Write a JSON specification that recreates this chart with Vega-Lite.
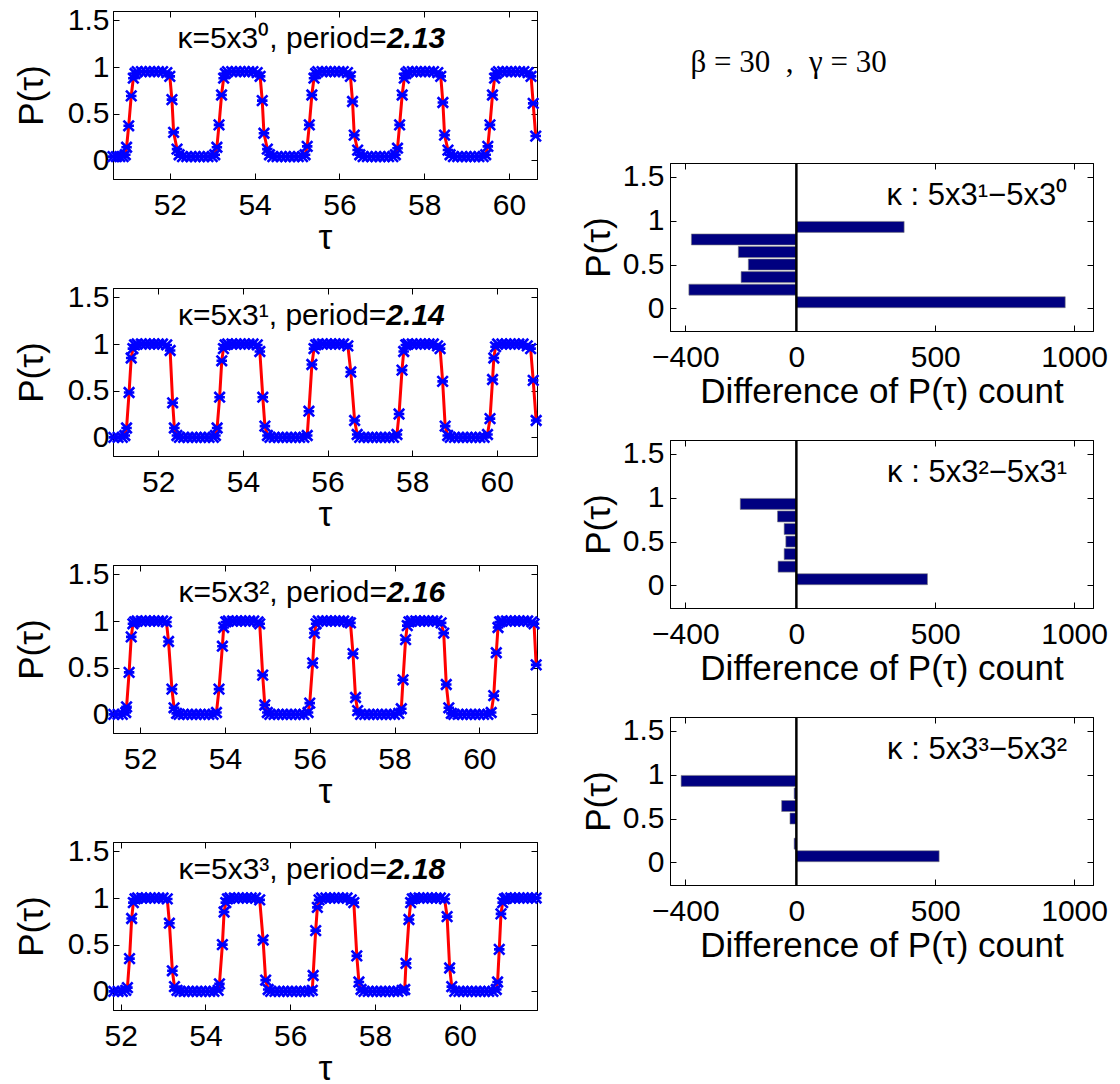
{
"$schema":"https://vega.github.io/schema/vega-lite/v6.json",
"padding":{"left":13,"top":4,"right":0,"bottom":0},
"background":"white",
"datasets":{
"L0":[{"t":50.66,"p":0.04},{"t":50.74,"p":0.04},{"t":50.82,"p":0.04},{"t":50.9,"p":0.04},{"t":50.95,"p":0.06},
{"t":50.98,"p":0.14},{"t":51.03,"p":0.37},{"t":51.09,"p":0.69},{"t":51.14,"p":0.88},{"t":51.18,"p":0.93},
{"t":51.23,"p":0.95},{"t":51.33,"p":0.95},{"t":51.43,"p":0.95},{"t":51.53,"p":0.95},{"t":51.63,"p":0.95},{"t":51.73,"p":0.95},{"t":51.83,"p":0.95},{"t":51.93,"p":0.94},
{"t":52.0,"p":0.9},{"t":52.05,"p":0.65},{"t":52.09,"p":0.3},{"t":52.17,"p":0.12},{"t":52.22,"p":0.06},
{"t":52.3,"p":0.04},{"t":52.4,"p":0.04},{"t":52.5,"p":0.04},{"t":52.6,"p":0.04},{"t":52.7,"p":0.04},{"t":52.8,"p":0.04},{"t":52.9,"p":0.04},{"t":53.0,"p":0.04},{"t":53.06,"p":0.06},
{"t":53.11,"p":0.14},{"t":53.16,"p":0.38},{"t":53.22,"p":0.7},{"t":53.27,"p":0.88},{"t":53.31,"p":0.93},
{"t":53.36,"p":0.95},{"t":53.46,"p":0.95},{"t":53.56,"p":0.95},{"t":53.66,"p":0.95},{"t":53.76,"p":0.95},{"t":53.86,"p":0.95},{"t":53.96,"p":0.95},{"t":54.06,"p":0.94},
{"t":54.13,"p":0.9},{"t":54.18,"p":0.64},{"t":54.22,"p":0.29},{"t":54.3,"p":0.12},{"t":54.35,"p":0.06},
{"t":54.43,"p":0.04},{"t":54.53,"p":0.04},{"t":54.63,"p":0.04},{"t":54.73,"p":0.04},{"t":54.83,"p":0.04},{"t":54.93,"p":0.04},{"t":55.03,"p":0.04},{"t":55.13,"p":0.04},{"t":55.19,"p":0.06},
{"t":55.24,"p":0.15},{"t":55.29,"p":0.38},{"t":55.35,"p":0.7},{"t":55.4,"p":0.88},{"t":55.44,"p":0.93},
{"t":55.49,"p":0.95},{"t":55.59,"p":0.95},{"t":55.69,"p":0.95},{"t":55.79,"p":0.95},{"t":55.89,"p":0.95},{"t":55.99,"p":0.95},{"t":56.09,"p":0.95},{"t":56.19,"p":0.94},
{"t":56.26,"p":0.9},{"t":56.31,"p":0.63},{"t":56.35,"p":0.27},{"t":56.43,"p":0.11},{"t":56.48,"p":0.06},
{"t":56.56,"p":0.04},{"t":56.66,"p":0.04},{"t":56.76,"p":0.04},{"t":56.86,"p":0.04},{"t":56.96,"p":0.04},{"t":57.06,"p":0.04},{"t":57.16,"p":0.04},{"t":57.26,"p":0.04},{"t":57.32,"p":0.06},
{"t":57.37,"p":0.13},{"t":57.42,"p":0.38},{"t":57.48,"p":0.7},{"t":57.53,"p":0.88},{"t":57.57,"p":0.93},
{"t":57.62,"p":0.95},{"t":57.72,"p":0.95},{"t":57.82,"p":0.95},{"t":57.92,"p":0.95},{"t":58.02,"p":0.95},{"t":58.12,"p":0.95},{"t":58.22,"p":0.95},{"t":58.32,"p":0.94},
{"t":58.39,"p":0.9},{"t":58.44,"p":0.62},{"t":58.48,"p":0.27},{"t":58.56,"p":0.11},{"t":58.61,"p":0.06},
{"t":58.69,"p":0.04},{"t":58.79,"p":0.04},{"t":58.89,"p":0.04},{"t":58.99,"p":0.04},{"t":59.09,"p":0.04},{"t":59.19,"p":0.04},{"t":59.29,"p":0.04},{"t":59.39,"p":0.04},{"t":59.45,"p":0.06},
{"t":59.5,"p":0.15},{"t":59.55,"p":0.38},{"t":59.61,"p":0.7},{"t":59.66,"p":0.88},{"t":59.7,"p":0.93},
{"t":59.75,"p":0.95},{"t":59.85,"p":0.95},{"t":59.95,"p":0.95},{"t":60.05,"p":0.95},{"t":60.15,"p":0.95},{"t":60.25,"p":0.95},{"t":60.35,"p":0.95},{"t":60.45,"p":0.94},
{"t":60.52,"p":0.9},{"t":60.57,"p":0.61},{"t":60.63,"p":0.26}],
"L1":[{"t":50.95,"p":0},{"t":51.05,"p":0},{"t":51.15,"p":0},{"t":51.21,"p":0.02},
{"t":51.25,"p":0.1},{"t":51.31,"p":0.48},{"t":51.36,"p":0.85},{"t":51.4,"p":0.95},{"t":51.44,"p":0.99},
{"t":51.5,"p":1},{"t":51.6,"p":1},{"t":51.7,"p":1},{"t":51.8,"p":1},{"t":51.9,"p":1},{"t":52.0,"p":1},{"t":52.1,"p":1},{"t":52.2,"p":0.99},
{"t":52.28,"p":0.93},{"t":52.34,"p":0.37},{"t":52.38,"p":0.1},{"t":52.44,"p":0.02},
{"t":52.5,"p":0},{"t":52.6,"p":0},{"t":52.7,"p":0},{"t":52.8,"p":0},{"t":52.9,"p":0},{"t":53.0,"p":0},{"t":53.1,"p":0},{"t":53.2,"p":0},{"t":53.3,"p":0},{"t":53.35,"p":0.02},
{"t":53.39,"p":0.1},{"t":53.45,"p":0.43},{"t":53.5,"p":0.82},{"t":53.54,"p":0.95},{"t":53.58,"p":0.99},
{"t":53.64,"p":1},{"t":53.74,"p":1},{"t":53.84,"p":1},{"t":53.94,"p":1},{"t":54.04,"p":1},{"t":54.14,"p":1},{"t":54.24,"p":1},{"t":54.34,"p":0.99},
{"t":54.4,"p":0.92},{"t":54.47,"p":0.43},{"t":54.52,"p":0.12},{"t":54.58,"p":0.02},
{"t":54.64,"p":0},{"t":54.74,"p":0},{"t":54.84,"p":0},{"t":54.94,"p":0},{"t":55.04,"p":0},{"t":55.14,"p":0},{"t":55.24,"p":0},{"t":55.34,"p":0},{"t":55.44,"p":0},{"t":55.52,"p":0.02},
{"t":55.56,"p":0.28},{"t":55.63,"p":0.78},{"t":55.68,"p":0.95},{"t":55.72,"p":0.99},
{"t":55.78,"p":1},{"t":55.88,"p":1},{"t":55.98,"p":1},{"t":56.08,"p":1},{"t":56.18,"p":1},{"t":56.28,"p":1},{"t":56.38,"p":1},{"t":56.48,"p":0.98},
{"t":56.55,"p":0.7},{"t":56.64,"p":0.18},{"t":56.7,"p":0.03},
{"t":56.76,"p":0},{"t":56.86,"p":0},{"t":56.96,"p":0},{"t":57.06,"p":0},{"t":57.16,"p":0},{"t":57.26,"p":0},{"t":57.36,"p":0},{"t":57.46,"p":0},{"t":57.56,"p":0},{"t":57.64,"p":0.03},
{"t":57.69,"p":0.25},{"t":57.76,"p":0.72},{"t":57.8,"p":0.92},{"t":57.85,"p":0.99},
{"t":57.9,"p":1},{"t":58.0,"p":1},{"t":58.1,"p":1},{"t":58.2,"p":1},{"t":58.3,"p":1},{"t":58.4,"p":1},{"t":58.5,"p":1},{"t":58.6,"p":0.98},
{"t":58.66,"p":0.95},{"t":58.72,"p":0.6},{"t":58.78,"p":0.12},{"t":58.84,"p":0.02},
{"t":58.9,"p":0},{"t":59.0,"p":0},{"t":59.1,"p":0},{"t":59.2,"p":0},{"t":59.3,"p":0},{"t":59.4,"p":0},{"t":59.5,"p":0},{"t":59.6,"p":0},{"t":59.7,"p":0},{"t":59.78,"p":0.03},
{"t":59.84,"p":0.2},{"t":59.9,"p":0.62},{"t":59.93,"p":0.85},{"t":59.97,"p":0.97},
{"t":60.02,"p":1},{"t":60.12,"p":1},{"t":60.22,"p":1},{"t":60.32,"p":1},{"t":60.42,"p":1},{"t":60.52,"p":1},{"t":60.62,"p":1},{"t":60.72,"p":0.98},
{"t":60.8,"p":0.95},{"t":60.86,"p":0.61},{"t":60.93,"p":0.18}],
"L2":[{"t":51.38,"p":0},{"t":51.48,"p":0},{"t":51.58,"p":0},{"t":51.66,"p":0.02},
{"t":51.68,"p":0.08},{"t":51.74,"p":0.45},{"t":51.79,"p":0.83},{"t":51.83,"p":0.97},{"t":51.87,"p":0.99},
{"t":51.93,"p":1},{"t":52.03,"p":1},{"t":52.13,"p":1},{"t":52.23,"p":1},{"t":52.33,"p":1},{"t":52.43,"p":1},{"t":52.53,"p":1},{"t":52.62,"p":0.99},
{"t":52.67,"p":0.78},{"t":52.75,"p":0.27},{"t":52.8,"p":0.07},{"t":52.86,"p":0.01},
{"t":52.92,"p":0},{"t":53.02,"p":0},{"t":53.12,"p":0},{"t":53.22,"p":0},{"t":53.32,"p":0},{"t":53.42,"p":0},{"t":53.52,"p":0},{"t":53.62,"p":0},{"t":53.72,"p":0},{"t":53.8,"p":0.02},
{"t":53.86,"p":0.27},{"t":53.94,"p":0.73},{"t":53.97,"p":0.93},{"t":54.02,"p":0.99},
{"t":54.08,"p":1},{"t":54.18,"p":1},{"t":54.28,"p":1},{"t":54.38,"p":1},{"t":54.48,"p":1},{"t":54.58,"p":1},{"t":54.68,"p":1},{"t":54.78,"p":0.99},
{"t":54.82,"p":0.97},{"t":54.89,"p":0.42},{"t":54.94,"p":0.1},{"t":55.0,"p":0.02},
{"t":55.06,"p":0},{"t":55.16,"p":0},{"t":55.26,"p":0},{"t":55.36,"p":0},{"t":55.46,"p":0},{"t":55.56,"p":0},{"t":55.66,"p":0},{"t":55.76,"p":0},{"t":55.86,"p":0},{"t":55.96,"p":0.02},
{"t":56.0,"p":0.12},{"t":56.07,"p":0.55},{"t":56.11,"p":0.87},{"t":56.15,"p":0.97},
{"t":56.2,"p":1},{"t":56.3,"p":1},{"t":56.4,"p":1},{"t":56.5,"p":1},{"t":56.6,"p":1},{"t":56.7,"p":1},{"t":56.8,"p":1},{"t":56.9,"p":0.99},{"t":56.96,"p":0.98},
{"t":57.02,"p":0.65},{"t":57.08,"p":0.18},{"t":57.13,"p":0.04},
{"t":57.2,"p":0},{"t":57.3,"p":0},{"t":57.4,"p":0},{"t":57.5,"p":0},{"t":57.6,"p":0},{"t":57.7,"p":0},{"t":57.8,"p":0},{"t":57.9,"p":0},{"t":58.0,"p":0},{"t":58.1,"p":0.01},{"t":58.16,"p":0.06},
{"t":58.2,"p":0.37},{"t":58.26,"p":0.8},{"t":58.3,"p":0.95},{"t":58.34,"p":0.99},
{"t":58.4,"p":1},{"t":58.5,"p":1},{"t":58.6,"p":1},{"t":58.7,"p":1},{"t":58.8,"p":1},{"t":58.9,"p":1},{"t":59.0,"p":1},{"t":59.1,"p":0.98},
{"t":59.16,"p":0.87},{"t":59.22,"p":0.32},{"t":59.28,"p":0.07},{"t":59.34,"p":0.01},
{"t":59.4,"p":0},{"t":59.5,"p":0},{"t":59.6,"p":0},{"t":59.7,"p":0},{"t":59.8,"p":0},{"t":59.9,"p":0},{"t":60.0,"p":0},{"t":60.1,"p":0},{"t":60.2,"p":0},{"t":60.28,"p":0.02},
{"t":60.34,"p":0.2},{"t":60.4,"p":0.66},{"t":60.44,"p":0.93},{"t":60.48,"p":0.99},
{"t":60.54,"p":1},{"t":60.64,"p":1},{"t":60.74,"p":1},{"t":60.84,"p":1},{"t":60.94,"p":1},{"t":61.04,"p":1},{"t":61.14,"p":1},{"t":61.24,"p":0.99},
{"t":61.29,"p":0.97},{"t":61.34,"p":0.53}],
"L3":[{"t":51.84,"p":0},{"t":51.94,"p":0},{"t":52.04,"p":0},{"t":52.12,"p":0.01},
{"t":52.16,"p":0.04},{"t":52.21,"p":0.35},{"t":52.26,"p":0.78},{"t":52.3,"p":0.95},{"t":52.34,"p":0.99},
{"t":52.4,"p":1},{"t":52.5,"p":1},{"t":52.6,"p":1},{"t":52.7,"p":1},{"t":52.8,"p":1},{"t":52.9,"p":1},{"t":53.0,"p":1},{"t":53.1,"p":0.99},
{"t":53.15,"p":0.73},{"t":53.22,"p":0.22},{"t":53.27,"p":0.05},{"t":53.33,"p":0.01},
{"t":53.4,"p":0},{"t":53.5,"p":0},{"t":53.6,"p":0},{"t":53.7,"p":0},{"t":53.8,"p":0},{"t":53.9,"p":0},{"t":54.0,"p":0},{"t":54.1,"p":0},{"t":54.2,"p":0},{"t":54.3,"p":0.01},
{"t":54.33,"p":0.08},{"t":54.4,"p":0.5},{"t":54.44,"p":0.85},{"t":54.48,"p":0.95},{"t":54.52,"p":0.99},
{"t":54.58,"p":1},{"t":54.68,"p":1},{"t":54.78,"p":1},{"t":54.88,"p":1},{"t":54.98,"p":1},{"t":55.08,"p":1},{"t":55.18,"p":1},{"t":55.28,"p":0.98},
{"t":55.36,"p":0.55},{"t":55.42,"p":0.12},{"t":55.48,"p":0.02},
{"t":55.54,"p":0},{"t":55.64,"p":0},{"t":55.74,"p":0},{"t":55.84,"p":0},{"t":55.94,"p":0},{"t":56.04,"p":0},{"t":56.14,"p":0},{"t":56.24,"p":0},{"t":56.34,"p":0},{"t":56.44,"p":0},{"t":56.52,"p":0.01},
{"t":56.54,"p":0.17},{"t":56.6,"p":0.65},{"t":56.64,"p":0.9},{"t":56.68,"p":0.98},
{"t":56.74,"p":1},{"t":56.84,"p":1},{"t":56.94,"p":1},{"t":57.04,"p":1},{"t":57.14,"p":1},{"t":57.24,"p":1},{"t":57.34,"p":1},{"t":57.44,"p":0.98},{"t":57.5,"p":0.95},
{"t":57.57,"p":0.38},{"t":57.62,"p":0.1},{"t":57.67,"p":0.02},
{"t":57.74,"p":0},{"t":57.84,"p":0},{"t":57.94,"p":0},{"t":58.04,"p":0},{"t":58.14,"p":0},{"t":58.24,"p":0},{"t":58.34,"p":0},{"t":58.44,"p":0},{"t":58.54,"p":0},{"t":58.64,"p":0.01},{"t":58.7,"p":0.02},
{"t":58.73,"p":0.3},{"t":58.8,"p":0.77},{"t":58.84,"p":0.95},{"t":58.88,"p":0.99},
{"t":58.94,"p":1},{"t":59.04,"p":1},{"t":59.14,"p":1},{"t":59.24,"p":1},{"t":59.34,"p":1},{"t":59.44,"p":1},{"t":59.54,"p":1},{"t":59.64,"p":0.99},
{"t":59.7,"p":0.8},{"t":59.76,"p":0.25},{"t":59.81,"p":0.05},
{"t":59.88,"p":0},{"t":59.98,"p":0},{"t":60.08,"p":0},{"t":60.18,"p":0},{"t":60.28,"p":0},{"t":60.38,"p":0},{"t":60.48,"p":0},{"t":60.58,"p":0},{"t":60.68,"p":0},{"t":60.78,"p":0},{"t":60.86,"p":0.02},
{"t":60.89,"p":0.1},{"t":60.93,"p":0.45},{"t":60.97,"p":0.83},{"t":61.01,"p":0.95},{"t":61.05,"p":0.99},
{"t":61.1,"p":1},{"t":61.2,"p":1},{"t":61.3,"p":1},{"t":61.4,"p":1},{"t":61.5,"p":1},{"t":61.6,"p":1},{"t":61.7,"p":1},{"t":61.8,"p":1}],
"A0":[{"t":57.12,"p":1.2,"s":"κ=5x3⁰, period=","v":"2.13"}],
"A1":[{"t":57.39,"p":1.2,"s":"κ=5x3¹, period=","v":"2.14"}],
"A2":[{"t":57.82,"p":1.2,"s":"κ=5x3², period=","v":"2.16"}],
"A3":[{"t":58.28,"p":1.2,"s":"κ=5x3³, period=","v":"2.18"}],
"R0":[{"b":0.071,"d":968},{"b":0.214,"d":-387},{"b":0.357,"d":-199},{"b":0.5,"d":-173},{"b":0.643,"d":-209},{"b":0.786,"d":-378},{"b":0.929,"d":388}],
"R1":[{"b":0.071,"d":472},{"b":0.214,"d":-66},{"b":0.357,"d":-44},{"b":0.5,"d":-38},{"b":0.643,"d":-44},{"b":0.786,"d":-68},{"b":0.929,"d":-202}],
"R2":[{"b":0.071,"d":514},{"b":0.214,"d":-8},{"b":0.357,"d":0},{"b":0.5,"d":-23},{"b":0.643,"d":-53},{"b":0.786,"d":-8},{"b":0.929,"d":-415}],
"K0":[{"d":975,"b":1.18,"s":"κ : 5x3¹−5x3⁰"}],
"K1":[{"d":975,"b":1.18,"s":"κ : 5x3²−5x3¹"}],
"K2":[{"d":975,"b":1.18,"s":"κ : 5x3³−5x3²"}],
"B":[{"d":-381,"b":2.8,"s":"β\u00a0=\u00a030\u00a0\u00a0,\u00a0\u00a0γ\u00a0=\u00a030"}]
},
"hconcat":[
{"vconcat":[
{"width":424,"height":168,"data":{"name":"L0"},"layer":[
{"mark":{"type":"line","color":"#ff0000","strokeWidth":3},"encoding":{"x":{"field":"t","type":"quantitative","scale":{"domain":[50.66,60.66],"nice":false,"zero":false},"axis":{"orient":"bottom","values":[52,54,56,58,60],"format":"d","title":"τ","labelPadding":17,"titlePadding":0}},"y":{"field":"p","type":"quantitative","scale":{"domain":[-0.2,1.6],"nice":false,"zero":false},"axis":{"orient":"left","values":[0,0.5,1,1.5],"format":"~g","title":"P(τ)","labelPadding":10,"titlePadding":18}}}},
{"mark":{"type":"point","shape":"M-1,-1L1,1M-1,1L1,-1M-1,0L1,0","filled":false,"color":"#0000ff","strokeWidth":2.6,"size":110,"opacity":1},"encoding":{"x":{"field":"t","type":"quantitative","scale":{"domain":[50.66,60.66],"nice":false,"zero":false},"axis":{"orient":"top","values":[52,54,56,58,60],"labels":false,"title":null}},"y":{"field":"p","type":"quantitative","scale":{"domain":[-0.2,1.6],"nice":false,"zero":false},"axis":{"orient":"right","values":[0,0.5,1,1.5],"labels":false,"title":null}}}},
{"data":{"name":"A0"},"mark":{"type":"text","align":"right","baseline":"alphabetic","fontSize":30},"encoding":{"x":{"field":"t","type":"quantitative","scale":{"domain":[50.66,60.66],"nice":false,"zero":false},"axis":null},"y":{"field":"p","type":"quantitative","scale":{"domain":[-0.2,1.6],"nice":false,"zero":false},"axis":null},"text":{"field":"s"}}},
{"data":{"name":"A0"},"mark":{"type":"text","align":"left","baseline":"alphabetic","fontSize":30,"fontWeight":"bold","fontStyle":"italic"},"encoding":{"x":{"field":"t","type":"quantitative","scale":{"domain":[50.66,60.66],"nice":false,"zero":false},"axis":null},"y":{"field":"p","type":"quantitative","scale":{"domain":[-0.2,1.6],"nice":false,"zero":false},"axis":null},"text":{"field":"v"}}}
],"resolve":{"axis":{"x":"independent","y":"independent"}}},
{"width":424,"height":168,"data":{"name":"L1"},"layer":[
{"mark":{"type":"line","color":"#ff0000","strokeWidth":3},"encoding":{"x":{"field":"t","type":"quantitative","scale":{"domain":[50.93,60.95],"nice":false,"zero":false},"axis":{"orient":"bottom","values":[52,54,56,58,60],"format":"d","title":"τ","labelPadding":17,"titlePadding":0}},"y":{"field":"p","type":"quantitative","scale":{"domain":[-0.2,1.6],"nice":false,"zero":false},"axis":{"orient":"left","values":[0,0.5,1,1.5],"format":"~g","title":"P(τ)","labelPadding":10,"titlePadding":18}}}},
{"mark":{"type":"point","shape":"M-1,-1L1,1M-1,1L1,-1M-1,0L1,0","filled":false,"color":"#0000ff","strokeWidth":2.6,"size":110,"opacity":1},"encoding":{"x":{"field":"t","type":"quantitative","scale":{"domain":[50.93,60.95],"nice":false,"zero":false},"axis":{"orient":"top","values":[52,54,56,58,60],"labels":false,"title":null}},"y":{"field":"p","type":"quantitative","scale":{"domain":[-0.2,1.6],"nice":false,"zero":false},"axis":{"orient":"right","values":[0,0.5,1,1.5],"labels":false,"title":null}}}},
{"data":{"name":"A1"},"mark":{"type":"text","align":"right","baseline":"alphabetic","fontSize":30},"encoding":{"x":{"field":"t","type":"quantitative","scale":{"domain":[50.93,60.95],"nice":false,"zero":false},"axis":null},"y":{"field":"p","type":"quantitative","scale":{"domain":[-0.2,1.6],"nice":false,"zero":false},"axis":null},"text":{"field":"s"}}},
{"data":{"name":"A1"},"mark":{"type":"text","align":"left","baseline":"alphabetic","fontSize":30,"fontWeight":"bold","fontStyle":"italic"},"encoding":{"x":{"field":"t","type":"quantitative","scale":{"domain":[50.93,60.95],"nice":false,"zero":false},"axis":null},"y":{"field":"p","type":"quantitative","scale":{"domain":[-0.2,1.6],"nice":false,"zero":false},"axis":null},"text":{"field":"v"}}}
],"resolve":{"axis":{"x":"independent","y":"independent"}}},
{"width":424,"height":168,"data":{"name":"L2"},"layer":[
{"mark":{"type":"line","color":"#ff0000","strokeWidth":3},"encoding":{"x":{"field":"t","type":"quantitative","scale":{"domain":[51.36,61.36],"nice":false,"zero":false},"axis":{"orient":"bottom","values":[52,54,56,58,60],"format":"d","title":"τ","labelPadding":17,"titlePadding":0}},"y":{"field":"p","type":"quantitative","scale":{"domain":[-0.2,1.6],"nice":false,"zero":false},"axis":{"orient":"left","values":[0,0.5,1,1.5],"format":"~g","title":"P(τ)","labelPadding":10,"titlePadding":18}}}},
{"mark":{"type":"point","shape":"M-1,-1L1,1M-1,1L1,-1M-1,0L1,0","filled":false,"color":"#0000ff","strokeWidth":2.6,"size":110,"opacity":1},"encoding":{"x":{"field":"t","type":"quantitative","scale":{"domain":[51.36,61.36],"nice":false,"zero":false},"axis":{"orient":"top","values":[52,54,56,58,60],"labels":false,"title":null}},"y":{"field":"p","type":"quantitative","scale":{"domain":[-0.2,1.6],"nice":false,"zero":false},"axis":{"orient":"right","values":[0,0.5,1,1.5],"labels":false,"title":null}}}},
{"data":{"name":"A2"},"mark":{"type":"text","align":"right","baseline":"alphabetic","fontSize":30},"encoding":{"x":{"field":"t","type":"quantitative","scale":{"domain":[51.36,61.36],"nice":false,"zero":false},"axis":null},"y":{"field":"p","type":"quantitative","scale":{"domain":[-0.2,1.6],"nice":false,"zero":false},"axis":null},"text":{"field":"s"}}},
{"data":{"name":"A2"},"mark":{"type":"text","align":"left","baseline":"alphabetic","fontSize":30,"fontWeight":"bold","fontStyle":"italic"},"encoding":{"x":{"field":"t","type":"quantitative","scale":{"domain":[51.36,61.36],"nice":false,"zero":false},"axis":null},"y":{"field":"p","type":"quantitative","scale":{"domain":[-0.2,1.6],"nice":false,"zero":false},"axis":null},"text":{"field":"v"}}}
],"resolve":{"axis":{"x":"independent","y":"independent"}}},
{"width":424,"height":168,"data":{"name":"L3"},"layer":[
{"mark":{"type":"line","color":"#ff0000","strokeWidth":3},"encoding":{"x":{"field":"t","type":"quantitative","scale":{"domain":[51.82,61.82],"nice":false,"zero":false},"axis":{"orient":"bottom","values":[52,54,56,58,60],"format":"d","title":"τ","labelPadding":17,"titlePadding":0}},"y":{"field":"p","type":"quantitative","scale":{"domain":[-0.2,1.6],"nice":false,"zero":false},"axis":{"orient":"left","values":[0,0.5,1,1.5],"format":"~g","title":"P(τ)","labelPadding":10,"titlePadding":18}}}},
{"mark":{"type":"point","shape":"M-1,-1L1,1M-1,1L1,-1M-1,0L1,0","filled":false,"color":"#0000ff","strokeWidth":2.6,"size":110,"opacity":1},"encoding":{"x":{"field":"t","type":"quantitative","scale":{"domain":[51.82,61.82],"nice":false,"zero":false},"axis":{"orient":"top","values":[52,54,56,58,60],"labels":false,"title":null}},"y":{"field":"p","type":"quantitative","scale":{"domain":[-0.2,1.6],"nice":false,"zero":false},"axis":{"orient":"right","values":[0,0.5,1,1.5],"labels":false,"title":null}}}},
{"data":{"name":"A3"},"mark":{"type":"text","align":"right","baseline":"alphabetic","fontSize":30},"encoding":{"x":{"field":"t","type":"quantitative","scale":{"domain":[51.82,61.82],"nice":false,"zero":false},"axis":null},"y":{"field":"p","type":"quantitative","scale":{"domain":[-0.2,1.6],"nice":false,"zero":false},"axis":null},"text":{"field":"s"}}},
{"data":{"name":"A3"},"mark":{"type":"text","align":"left","baseline":"alphabetic","fontSize":30,"fontWeight":"bold","fontStyle":"italic"},"encoding":{"x":{"field":"t","type":"quantitative","scale":{"domain":[51.82,61.82],"nice":false,"zero":false},"axis":null},"y":{"field":"p","type":"quantitative","scale":{"domain":[-0.2,1.6],"nice":false,"zero":false},"axis":null},"text":{"field":"v"}}}
],"resolve":{"axis":{"x":"independent","y":"independent"}}}
],"spacing":109,"bounds":"flush"},
{"vconcat":[
{"width":423,"height":43,"data":{"values":[{}]},"mark":{"type":"text"},"encoding":{"text":{"value":""}},"view":{"stroke":null}},
{"width":423,"height":168,"layer":[
{"data":{"name":"R0"},"mark":{"type":"bar","orient":"horizontal","height":11,"color":"#000080","stroke":"#808080","strokeWidth":0.6},"encoding":{"x":{"field":"d","type":"quantitative","scale":{"domain":[-455,1068],"nice":false,"zero":false},"axis":{"orient":"bottom","values":[-400,0,500,1000],"format":"d","title":"Difference of P(τ) count","labelPadding":17,"titlePadding":2}},"x2":{"datum":0},"y":{"field":"b","type":"quantitative","scale":{"domain":[-0.2,1.6],"nice":false,"zero":false},"axis":{"orient":"left","values":[0,0.5,1,1.5],"format":"~g","title":"P(τ)","labelPadding":12,"titlePadding":6}}}},
{"data":{"values":[{}]},"mark":{"type":"rule","color":"black","strokeWidth":2.5},"encoding":{"x":{"datum":0,"type":"quantitative","scale":{"domain":[-455,1068],"nice":false,"zero":false},"axis":null}}},
{"data":{"name":"K0"},"mark":{"type":"text","align":"right","baseline":"alphabetic","fontSize":31},"encoding":{"x":{"field":"d","type":"quantitative","scale":{"domain":[-455,1068],"nice":false,"zero":false},"axis":{"orient":"top","values":[-400,0,500,1000],"labels":false,"title":null}},"y":{"field":"b","type":"quantitative","scale":{"domain":[-0.2,1.6],"nice":false,"zero":false},"axis":{"orient":"right","values":[0,0.5,1,1.5],"labels":false,"title":null}},"text":{"field":"s"}}},
{"data":{"name":"B"},"mark":{"type":"text","align":"left","baseline":"middle","fontSize":31,"font":"Liberation Serif"},"encoding":{"x":{"field":"d","type":"quantitative","scale":{"domain":[-455,1068],"nice":false,"zero":false},"axis":null},"y":{"field":"b","type":"quantitative","scale":{"domain":[-0.2,1.6],"nice":false,"zero":false},"axis":null},"text":{"field":"s"}}}
],"resolve":{"axis":{"x":"independent","y":"independent"}}},
{"width":423,"height":168,"layer":[
{"data":{"name":"R1"},"mark":{"type":"bar","orient":"horizontal","height":11,"color":"#000080","stroke":"#808080","strokeWidth":0.6},"encoding":{"x":{"field":"d","type":"quantitative","scale":{"domain":[-455,1068],"nice":false,"zero":false},"axis":{"orient":"bottom","values":[-400,0,500,1000],"format":"d","title":"Difference of P(τ) count","labelPadding":17,"titlePadding":2}},"x2":{"datum":0},"y":{"field":"b","type":"quantitative","scale":{"domain":[-0.2,1.6],"nice":false,"zero":false},"axis":{"orient":"left","values":[0,0.5,1,1.5],"format":"~g","title":"P(τ)","labelPadding":12,"titlePadding":6}}}},
{"data":{"values":[{}]},"mark":{"type":"rule","color":"black","strokeWidth":2.5},"encoding":{"x":{"datum":0,"type":"quantitative","scale":{"domain":[-455,1068],"nice":false,"zero":false},"axis":null}}},
{"data":{"name":"K1"},"mark":{"type":"text","align":"right","baseline":"alphabetic","fontSize":31},"encoding":{"x":{"field":"d","type":"quantitative","scale":{"domain":[-455,1068],"nice":false,"zero":false},"axis":{"orient":"top","values":[-400,0,500,1000],"labels":false,"title":null}},"y":{"field":"b","type":"quantitative","scale":{"domain":[-0.2,1.6],"nice":false,"zero":false},"axis":{"orient":"right","values":[0,0.5,1,1.5],"labels":false,"title":null}},"text":{"field":"s"}}}
],"resolve":{"axis":{"x":"independent","y":"independent"}}},
{"width":423,"height":168,"layer":[
{"data":{"name":"R2"},"mark":{"type":"bar","orient":"horizontal","height":11,"color":"#000080","stroke":"#808080","strokeWidth":0.6},"encoding":{"x":{"field":"d","type":"quantitative","scale":{"domain":[-455,1068],"nice":false,"zero":false},"axis":{"orient":"bottom","values":[-400,0,500,1000],"format":"d","title":"Difference of P(τ) count","labelPadding":17,"titlePadding":2}},"x2":{"datum":0},"y":{"field":"b","type":"quantitative","scale":{"domain":[-0.2,1.6],"nice":false,"zero":false},"axis":{"orient":"left","values":[0,0.5,1,1.5],"format":"~g","title":"P(τ)","labelPadding":12,"titlePadding":6}}}},
{"data":{"values":[{}]},"mark":{"type":"rule","color":"black","strokeWidth":2.5},"encoding":{"x":{"datum":0,"type":"quantitative","scale":{"domain":[-455,1068],"nice":false,"zero":false},"axis":null}}},
{"data":{"name":"K2"},"mark":{"type":"text","align":"right","baseline":"alphabetic","fontSize":31},"encoding":{"x":{"field":"d","type":"quantitative","scale":{"domain":[-455,1068],"nice":false,"zero":false},"axis":{"orient":"top","values":[-400,0,500,1000],"labels":false,"title":null}},"y":{"field":"b","type":"quantitative","scale":{"domain":[-0.2,1.6],"nice":false,"zero":false},"axis":{"orient":"right","values":[0,0.5,1,1.5],"labels":false,"title":null}},"text":{"field":"s"}}}
],"resolve":{"axis":{"x":"independent","y":"independent"}}}
],"spacing":109,"bounds":"flush"}
],
"spacing":32,
"config":{
"font":"Liberation Sans",
"view":{"stroke":"black","strokeWidth":1},
"axis":{"grid":false,"domainColor":"black","domainWidth":1,"tickColor":"black","tickWidth":1,"tickSize":-6,"labelColor":"black","titleColor":"black","labelFontSize":30,"titleFontSize":35,"titleFontWeight":"normal","labelFont":"Liberation Sans","titleFont":"Liberation Sans"},
"text":{"color":"black","font":"Liberation Sans"}
}
}
